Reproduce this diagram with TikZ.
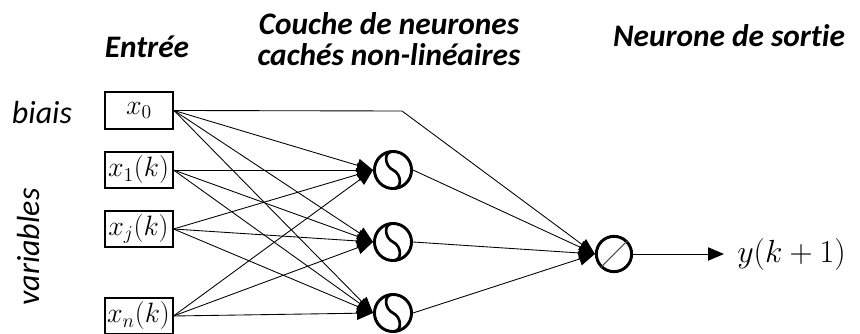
\RequirePackage{fix-cm}
\documentclass[tikz,border=0pt]{standalone}
\usepackage{fontspec}
\setmainfont{Carlito}[Ligatures=NoCommon]
\usetikzlibrary{arrows.meta,positioning}

\begin{document}
\begin{tikzpicture}[x=0.75pt,y=-0.75pt,every node/.style={inner sep=0pt},
  entree/.style={draw=black,line width=1.5pt,minimum width=51pt,minimum height=27.5pt,font=\fontsize{21}{24}\selectfont},
  neurone/.style={circle,draw=black,line width=2.2pt,minimum size=27.8pt},
  lien/.style={line width=0.65pt,-{Triangle[length=12pt,width=10pt]}},
  titre/.style={font=\fontsize{23.5}{23}\selectfont\bfseries\itshape,align=center},
  marge/.style={font=\fontsize{24}{26}\selectfont\itshape}]
\useasboundingbox (0,0) rectangle (860,334);
% titres
\node (entree) at (147,47) [titre]{Entrée};
\node (couche) at (389,39) [titre]{Couche de neurones\\cachés non-linéaires};
\node (sortie) at (729,36) [titre]{Neurone de sortie};
\node (biais) at (42,113) [marge]{biais};
\node (var) at (29,247) [marge,rotate=90]{variables};
% entrees
\node (x0) at (139,110.5) [entree]{$x_0$};
\node (x1) at (138.5,170) [entree]{$x_1(k)$};
\node (xj) at (138.5,229) [entree]{$x_j(k)$};
\node (xn) at (138.5,316) [entree]{$x_n(k)$};
% neurones caches
\node (s1) at (393,170) [neurone]{};
\node (s2) at (393,242) [neurone]{};
\node (s3) at (393,313) [neurone]{};
\node (out) at (614,254) [neurone,minimum size=26.5pt]{};
\coordinate (coude) at (402,111);
\coordinate (fin) at (724,254);
\node (y) at (737,255) [anchor=west,font=\fontsize{24}{26}\selectfont]{$y(k+1)$};
% symboles
\foreach \h in {s1,s2,s3}
  \draw[line width=2pt,x=1pt,y=1pt,shift={(\h.center)}] (0,13.9) .. controls (-7.6,13.9) and (-6.2,2.8) .. (0,0)
    .. controls (6.2,-2.8) and (7.6,-13.9) .. (0,-13.9);
\draw[line width=0.8pt,black!70] (out.225) -- (out.45);
% liens
\foreach \i in {x0,x1,xj,xn}
  \foreach \h in {s1,s2,s3}
    \draw[lien] (\i.east) -- (\h.west);
\draw[lien] (x0.east) -- (coude) -- (out.west);
\foreach \h in {s1,s2,s3}
  \draw[lien] (\h.east) -- (out.west);
\draw[lien] (out.east) -- (fin);
\end{tikzpicture}
\end{document}
